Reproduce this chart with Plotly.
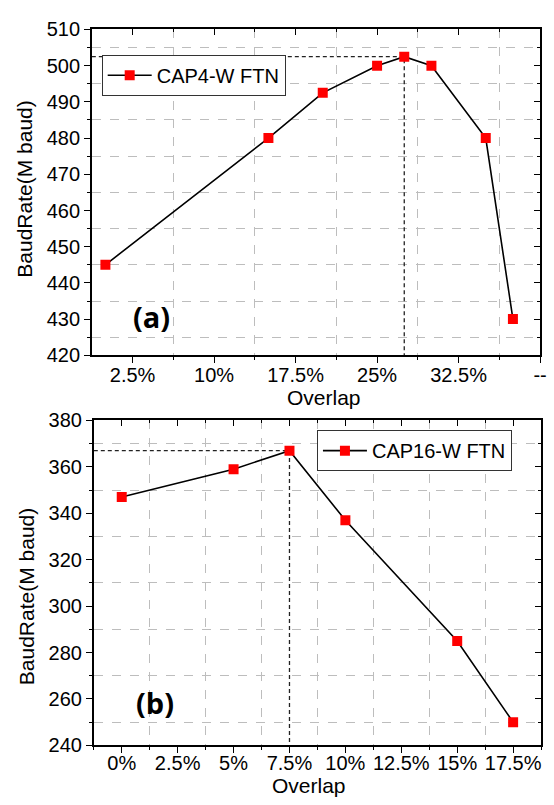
import plotly.graph_objects as go

# ---- data ----
overlap_a = [0, 15, 20, 25, 27.5, 30, 35, 37.5]
baud_a = [445, 480, 492.5, 500, 502.5, 500, 480, 430]
overlap_b = [0, 5, 7.5, 10, 15, 17.5]
baud_b = [347, 359, 367, 337, 285, 250]

xticks_a = [2.5, 10, 17.5, 25, 32.5, 40]
xtext_a = ["2.5%", "10%", "17.5%", "25%", "32.5%", "--"]
xminor_a = [6.25, 13.75, 21.25, 28.75, 36.25]
yticks_a = [420, 430, 440, 450, 460, 470, 480, 490, 500, 510]
yminor_a = [425, 435, 445, 455, 465, 475, 485, 495, 505]

xticks_b = [0, 2.5, 5, 7.5, 10, 12.5, 15, 17.5]
xtext_b = ["0%", "2.5%", "5%", "7.5%", "10%", "12.5%", "15%", "17.5%"]
xminor_b = [-1.25, 1.25, 3.75, 6.25, 8.75, 11.25, 13.75, 16.25, 18.75]
yticks_b = [240, 260, 280, 300, 320, 340, 360, 380]
yminor_b = [250, 270, 290, 310, 330, 350, 370]

xrange_a = [-1.25, 40]
yrange_a = [420, 510]
xrange_b = [-1.25, 18.75]
yrange_b = [240, 380]

W, H = 554, 805
FONT = "Liberation Sans, Arial, sans-serif"
GRID = "#bdbdbd"

def px(x):
    return x / W

def py(y):
    return 1 - y / H

fig = go.Figure()

# reference dashed lines (from peak)
ia = baud_a.index(max(baud_a))
ib = baud_b.index(max(baud_b))
for (xs, ys, xa, ya, xr, yr, i) in [
    (overlap_a, baud_a, "x", "y", xrange_a, yrange_a, ia),
    (overlap_b, baud_b, "x2", "y2", xrange_b, yrange_b, ib),
]:
    fig.add_trace(go.Scatter(
        x=[xr[0], xs[i], xs[i]], y=[ys[i], ys[i], yr[0]],
        mode="lines", line=dict(color="#222222", width=1.3, dash="4px,3px"),
        xaxis=xa, yaxis=ya, showlegend=False, hoverinfo="skip"))

fig.add_trace(go.Scatter(
    x=overlap_a, y=baud_a, mode="lines+markers", name="CAP4-W FTN",
    line=dict(color="black", width=1.6),
    marker=dict(symbol="square", size=10, color="#ff0000"),
    xaxis="x", yaxis="y", legend="legend"))
fig.add_trace(go.Scatter(
    x=overlap_b, y=baud_b, mode="lines+markers", name="CAP16-W FTN",
    line=dict(color="black", width=1.6),
    marker=dict(symbol="square", size=10, color="#ff0000"),
    xaxis="x2", yaxis="y2", legend="legend2"))

# empty traces for mirror axes (inside ticks on top/right)
fig.add_trace(go.Scatter(x=[], y=[], xaxis="x3", yaxis="y3", showlegend=False))
fig.add_trace(go.Scatter(x=[], y=[], xaxis="x4", yaxis="y4", showlegend=False))

dom_xa = [px(93), px(547)]
dom_ya = [py(354), py(19)]
dom_xb = [px(95), px(548)]
dom_yb = [py(755), py(421)]

def main_axis(domain, rng, tv, tt, mv, anchor, standoff=0):
    return dict(
        domain=domain, range=rng, anchor=anchor,
        tickmode="array", tickvals=tv, ticktext=tt,
        ticks="outside", ticklen=6, tickwidth=1.3, tickcolor="black",
        showline=True, linecolor="black", linewidth=1.6,
        showgrid=False, zeroline=False,
        ticklabelstandoff=standoff,
        tickfont=dict(family=FONT, size=20, color="black"),
        minor=dict(tickmode="array", tickvals=mv, ticks="outside", ticklen=3,
                   tickwidth=1.2, tickcolor="black", showgrid=True,
                   gridcolor=GRID, gridwidth=1, griddash="dash"),
        fixedrange=True,
    )

def mirror_axis(domain, rng, tv, mv, anchor, overlaying, side):
    return dict(
        domain=domain, range=rng, anchor=anchor, overlaying=overlaying, side=side,
        tickmode="array", tickvals=tv, showticklabels=False,
        ticks="inside", ticklen=6, tickwidth=1.3, tickcolor="black",
        showline=True, linecolor="black", linewidth=1.6,
        showgrid=False, zeroline=False,
        minor=dict(tickmode="array", tickvals=mv, ticks="inside", ticklen=3,
                   tickwidth=1.2, tickcolor="black", showgrid=False),
        fixedrange=True,
    )

ytext_a = [str(v) for v in yticks_a]
ytext_b = [str(v) for v in yticks_b]

fig.update_layout(
    width=W, height=H,
    margin=dict(l=0, r=0, t=0, b=0),
    paper_bgcolor="white", plot_bgcolor="white",
    xaxis=main_axis(dom_xa, xrange_a, xticks_a, xtext_a, xminor_a, "y", -5),
    yaxis=main_axis(dom_ya, yrange_a, yticks_a, ytext_a, yminor_a, "x"),
    xaxis2=main_axis(dom_xb, xrange_b, xticks_b, xtext_b, xminor_b, "y2", -7),
    yaxis2=main_axis(dom_yb, yrange_b, yticks_b, ytext_b, yminor_b, "x2"),
    xaxis3=mirror_axis(dom_xa, xrange_a, xticks_a, xminor_a, "y", "x", "top"),
    yaxis3=mirror_axis(dom_ya, yrange_a, yticks_a, yminor_a, "x", "y", "right"),
    xaxis4=mirror_axis(dom_xb, xrange_b, xticks_b, xminor_b, "y2", "x2", "top"),
    yaxis4=mirror_axis(dom_yb, yrange_b, yticks_b, yminor_b, "x2", "y2", "right"),
    legend=dict(x=px(103), y=py(66), xanchor="left", yanchor="middle",
                bgcolor="white", bordercolor="#333333", borderwidth=1,
                font=dict(family=FONT, size=20, color="black"),
                itemwidth=44, tracegroupgap=0),
    legend2=dict(x=px(321), y=py(452), xanchor="left", yanchor="middle",
                 bgcolor="white", bordercolor="#333333", borderwidth=1,
                 font=dict(family=FONT, size=20, color="black"),
                 itemwidth=44, tracegroupgap=0),
    showlegend=True,
)

ann = [
    dict(text="BaudRate(M baud)", x=px(25), y=py(183), textangle=-90,
         font=dict(family=FONT, size=21, color="black")),
    dict(text="BaudRate(M baud)", x=px(27), y=py(602), textangle=-90,
         font=dict(family=FONT, size=21, color="black")),
    dict(text="Overlap", x=px(328), y=py(397),
         font=dict(family=FONT, size=21, color="black")),
    dict(text="Overlap", x=px(313), y=py(796),
         font=dict(family=FONT, size=21, color="black")),
    dict(text="<b>(a)</b>", x=px(153), y=py(314),
         font=dict(family="Open Sans, sans-serif", size=29, color="black")),
    dict(text="<b>(b)</b>", x=px(157), y=py(711),
         font=dict(family="Open Sans, sans-serif", size=29, color="black")),
]
for a in ann:
    a.update(xref="paper", yref="paper", showarrow=False,
             xanchor="center", yanchor="middle")
fig.update_layout(annotations=ann)

fig.write_html("out.html")
